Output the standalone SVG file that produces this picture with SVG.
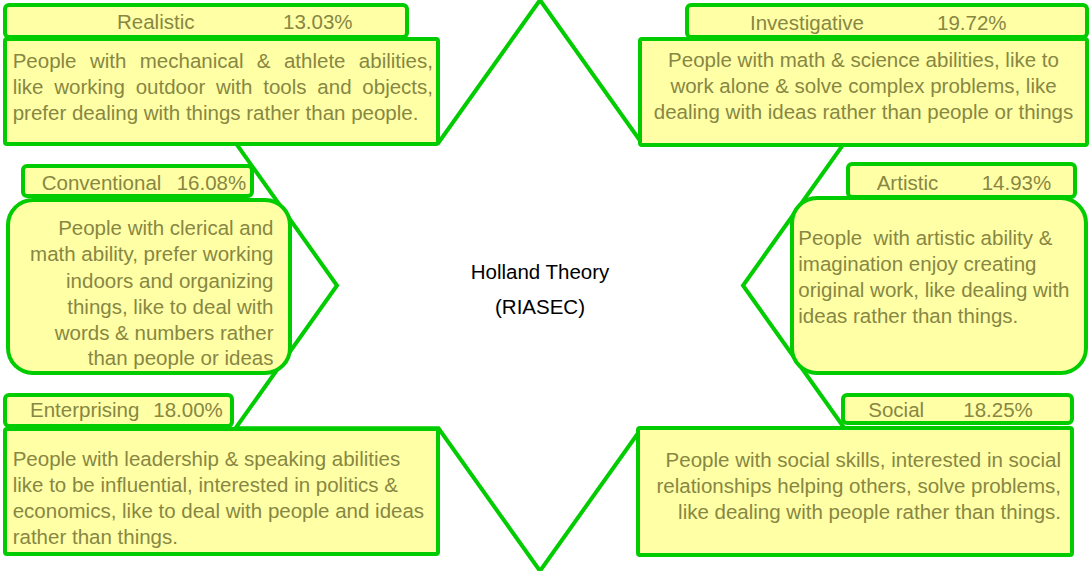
<svg xmlns="http://www.w3.org/2000/svg" width="1089" height="571" viewBox="0 0 1089 571">
<style>
.box{fill:#FFFFA6;stroke:#00CC00;stroke-width:4;}
.t{font-family:"Liberation Sans",Arial,sans-serif;font-size:20.5px;fill:#878743;}
.c{font-family:"Liberation Sans",Arial,sans-serif;font-size:20.5px;fill:#000;}
.star{fill:none;stroke:#00CC00;stroke-width:4;stroke-linejoin:miter;}
</style>
<rect width="1089" height="571" fill="#fff"/>
<g id="connectors">
<polygon class="star" points="540,0 641.5,142.75 844.5,142.75 743,285.5 844.5,428.25 641.5,428.25 540,571 438.5,428.25 235.5,428.25 337,285.5 235.5,142.75 438.5,142.75"/>
</g>
<g id="center">
<text class="c" x="540" y="279" text-anchor="middle">Holland Theory</text>
<text class="c" x="540" y="314" text-anchor="middle">(RIASEC)</text>
</g>
<g id="realistic">
<rect class="box" x="5" y="5" width="402" height="32" rx="4"/>
<text class="t" x="117" y="29">Realistic</text>
<text class="t" x="283" y="29">13.03%</text>
<rect class="box" x="5" y="39" width="433" height="105" rx="2"/>
<text class="t" x="12.7" y="68" word-spacing="7.7">People with mechanical &amp; athlete abilities,</text>
<text class="t" x="12.7" y="94" word-spacing="5.1">like working outdoor with tools and objects,</text>
<text class="t" x="12.7" y="119.5">prefer dealing with things rather than people.</text>
</g>
<g id="investigative">
<rect class="box" x="687" y="5" width="400" height="32" rx="4"/>
<text class="t" x="750" y="30">Investigative</text>
<text class="t" x="937" y="30">19.72%</text>
<rect class="box" x="640" y="39" width="447" height="106" rx="2"/>
<text class="t" x="863.5" y="67" text-anchor="middle">People with math &amp; science abilities, like to</text>
<text class="t" x="863.5" y="93" text-anchor="middle">work alone &amp; solve complex problems, like</text>
<text class="t" x="863.5" y="118.5" text-anchor="middle">dealing with ideas rather than people or things</text>
</g>
<g id="conventional">
<rect class="box" x="23" y="166" width="229" height="30" rx="4"/>
<text class="t" x="41.7" y="190">Conventional</text>
<text class="t" x="176.7" y="190">16.08%</text>
<rect class="box" x="8" y="200" width="282" height="173" rx="25"/>
<g text-anchor="end">
<text class="t" x="273.5" y="235">People with clerical and</text>
<text class="t" x="273.5" y="261">math ability, prefer working</text>
<text class="t" x="273.5" y="287.5">indoors and organizing</text>
<text class="t" x="273.5" y="314">things, like to deal with</text>
<text class="t" x="273.5" y="340">words &amp; numbers rather</text>
<text class="t" x="273.5" y="365">than people or ideas</text>
</g>
</g>
<g id="artistic">
<rect class="box" x="848" y="164" width="227" height="33" rx="4"/>
<text class="t" x="876.7" y="190">Artistic</text>
<text class="t" x="981.7" y="190">14.93%</text>
<rect class="box" x="792" y="198" width="294" height="175" rx="25"/>
<text class="t" x="798.3" y="245" xml:space="preserve">People  with artistic ability &amp;</text>
<text class="t" x="798.3" y="271">imagination enjoy creating</text>
<text class="t" x="798.3" y="297.3">original work, like dealing with</text>
<text class="t" x="798.3" y="323.3">ideas rather than things.</text>
</g>
<g id="enterprising">
<rect class="box" x="5" y="395" width="227" height="31" rx="4"/>
<text class="t" x="30" y="417">Enterprising</text>
<text class="t" x="153.3" y="417">18.00%</text>
<rect class="box" x="5" y="429" width="433" height="125" rx="2"/>
<text class="t" x="12.7" y="466">People with leadership &amp; speaking abilities</text>
<text class="t" x="12.7" y="492">like to be influential, interested in politics &amp;</text>
<text class="t" x="12.7" y="518">economics, like to deal with people and ideas</text>
<text class="t" x="12.7" y="544">rather than things.</text>
</g>
<g id="social">
<rect class="box" x="843" y="395" width="229" height="28" rx="4"/>
<text class="t" x="868.3" y="417">Social</text>
<text class="t" x="963.3" y="417">18.25%</text>
<rect class="box" x="638" y="428" width="434" height="127" rx="2"/>
<g text-anchor="end">
<text class="t" x="1061" y="467.3">People with social skills, interested in social</text>
<text class="t" x="1061" y="493.3">relationships helping others, solve problems,</text>
<text class="t" x="1061" y="519.3">like dealing with people rather than things.</text>
</g>
</g>
</svg>
